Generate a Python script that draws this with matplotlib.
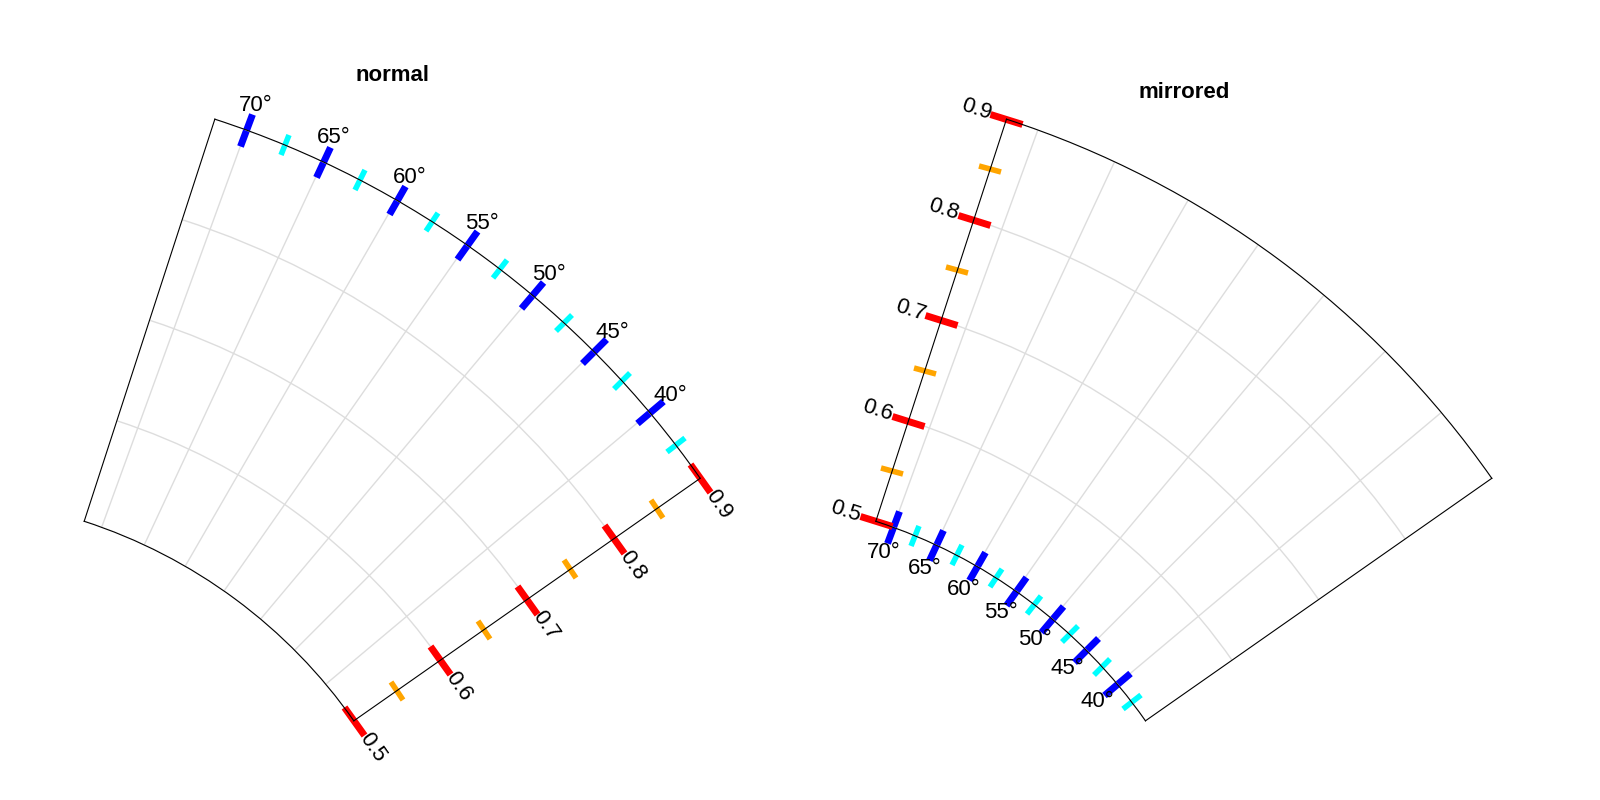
import numpy as np
import matplotlib
matplotlib.use("Agg")
import matplotlib.pyplot as plt

plt.rcParams['font.family'] = ['Liberation Sans', 'DejaVu Sans']
titles = ["normal", "mirrored"]
theta_lim = [35, 72]
r_lim = [0.5, 0.9]
theta_major = [40, 45, 50, 55, 60, 65, 70]
theta_minor = [37.5, 42.5, 47.5, 52.5, 57.5, 62.5, 67.5]
r_major = [0.5, 0.6, 0.7, 0.8, 0.9]
r_minor = [0.55, 0.65, 0.75, 0.85]

fig = plt.figure(figsize=(16, 8), dpi=100)
fig.subplots_adjust(left=0.03, right=0.955, top=0.86, bottom=0.09, wspace=0.15)
for i, t in enumerate(titles):
    ax = fig.add_subplot(1, 2, i + 1, projection='polar')
    ax.set_thetamin(theta_lim[0]); ax.set_thetamax(theta_lim[1])
    ax.set_rlim(*r_lim)
    ax.set_rorigin(0)
    ax.set_xticks(np.deg2rad(theta_major))
    ax.set_xticks(np.deg2rad(theta_minor), minor=True)
    ax.set_xticklabels([f"{v}°" for v in theta_major])
    ax.set_yticks(r_major)
    ax.set_yticks(r_minor, minor=True)
    ax.set_yticklabels([f"{v:.1f}" for v in r_major])
    ax.grid(True, color='#dddddd', lw=1)
    ax.tick_params(axis='x', which='major', colors='blue', width=5, length=12, direction='inout', labelcolor='black', labelsize=16, pad=6)
    ax.tick_params(axis='x', which='minor', colors='cyan', width=4, length=8, direction='inout')
    ax.tick_params(axis='y', which='major', colors='red', width=5, length=12, direction='inout', labelcolor='black', labelsize=16, pad=6, labelrotation='auto')
    ax.tick_params(axis='y', which='minor', colors='orange', width=4, length=8, direction='inout')
    if i == 0:
        ax.xaxis.set_tick_params(which='both', tick1On=False, tick2On=True)
        ax.yaxis.set_tick_params(which='both', tick1On=True, tick2On=False)
    else:
        ax.xaxis.set_tick_params(which='both', tick1On=True, tick2On=False, label1On=False, label2On=True)
        ax.yaxis.set_tick_params(which='both', tick1On=False, tick2On=True, label1On=False, label2On=True)
    ax.set_title(t, fontweight='bold', fontsize=16, pad=10)
fig.savefig("out.png")
